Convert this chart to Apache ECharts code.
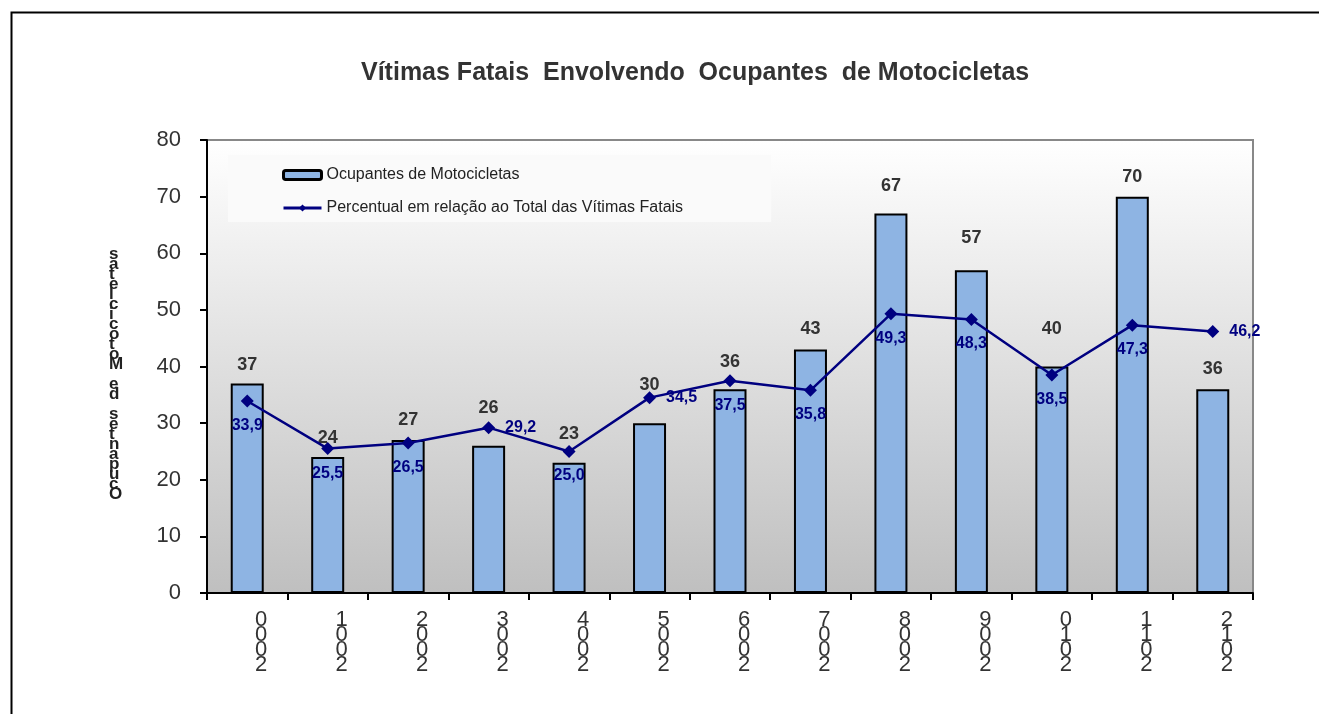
<!DOCTYPE html>
<html>
<head>
<meta charset="utf-8">
<script src="https://cdn.jsdelivr.net/npm/echarts@6/dist/echarts.min.js"></script>
<style>
  html, body { margin: 0; padding: 0; background: #fff; }
  #chart { width: 1319px; height: 714px; }
</style>
</head>
<body>
<div id="chart"></div>
<script>
const years = ['2000', '2001', '2002', '2003', '2004', '2005', '2006', '2007', '2008', '2009', '2010', '2011', '2012']
const ocupantes = [37, 24, 27, 26, 23, 30, 36, 43, 67, 57, 40, 70, 36]
const percentual = [33.9, 25.5, 26.5, 29.2, 25.0, 34.5, 37.5, 35.8, 49.3, 48.3, 38.5, 47.3, 46.2]

// label placement, as in the source picture
const pctLabelPos = ['bottom', 'bottom', 'bottom', 'right', 'bottom', 'right', 'bottom', 'bottom', 'bottom', 'bottom', 'bottom', 'bottom', 'right']
const barLabelGap = [9, 10, 11, 29, 20, 29, 18, 11, 19, 23, 28, 11, 11]

const FONT = '"Liberation Sans", Arial, sans-serif'
const NAVY = '#000080'

// the source file stacks reversed text vertically
const stackReversed = s => s.split('').reverse().join('\n')

const chart = echarts.init(document.getElementById('chart'))

chart.setOption({
  backgroundColor: '#fff',
  animation: false,
  textStyle: { fontFamily: FONT },
  title: {
    text: 'Vítimas Fatais  Envolvendo  Ocupantes  de Motocicletas',
    left: 356,
    top: 56,
    textStyle: { fontFamily: FONT, fontSize: 25, fontWeight: 'bold', color: '#333' }
  },
  legend: {
    orient: 'vertical',
    left: 228,
    top: 155,
    padding: [12, 88, 6, 54],
    itemGap: 17,
    itemWidth: 38,
    itemHeight: 9,
    backgroundColor: '#fafafa',
    textStyle: { fontFamily: FONT, fontSize: 16, color: '#222' },
    data: [
      { name: 'Ocupantes de Motocicletas', itemStyle: { borderWidth: 3 } },
      { name: 'Percentual em relação ao Total das Vítimas Fatais', lineStyle: { width: 3 } }
    ]
  },
  graphic: [
    {
      type: 'rect',
      left: 9, top: 10,
      shape: { width: 1400, height: 800 },
      style: { fill: 'none', stroke: '#000', lineWidth: 2 },
      silent: true
    },
    {
      type: 'text',
      left: 109, top: 246,
      style: {
        text: stackReversed('Ocupantes de Motocicletas'),
        font: 'bold 17px ' + FONT,
        lineHeight: 10,
        fill: '#222',
        align: 'center'
      }
    }
  ],
  grid: {
    left: 207, top: 140, right: 66, bottom: 121,
    show: true,
    borderColor: '#888',
    borderWidth: 2,
    backgroundColor: new echarts.graphic.LinearGradient(0, 0, 0, 1, [
      { offset: 0, color: '#ffffff' },
      { offset: 1, color: '#bfbfbf' }
    ])
  },
  xAxis: {
    type: 'category',
    data: years,
    axisLine: { lineStyle: { color: '#000', width: 2 } },
    axisTick: { show: true, length: 7, lineStyle: { color: '#000', width: 2 } },
    axisLabel: {
      formatter: stackReversed,
      fontFamily: FONT,
      fontSize: 22,
      lineHeight: 15,
      color: '#333',
      margin: 19,
      padding: [0, 0, 0, 28]
    },
    splitLine: { show: false }
  },
  yAxis: {
    type: 'value',
    min: 0, max: 80, interval: 10,
    axisLine: { show: true, lineStyle: { color: '#000', width: 2 } },
    axisTick: { show: true, length: 7, lineStyle: { color: '#000', width: 2 } },
    axisLabel: { fontFamily: FONT, fontSize: 22, color: '#333', margin: 26 },
    splitLine: { show: false }
  },
  series: [
    {
      name: 'Ocupantes de Motocicletas',
      type: 'bar',
      data: ocupantes.map((v, i) => ({
        value: v,
        label: { distance: barLabelGap[i] }
      })),
      barWidth: 33,
      itemStyle: { color: '#8eb4e3', borderColor: '#000', borderWidth: 2 },
      label: {
        show: true,
        position: 'top',
        fontFamily: FONT,
        fontSize: 18,
        fontWeight: 'bold',
        color: '#333'
      },
      z: 2
    },
    {
      name: 'Percentual em relação ao Total das Vítimas Fatais',
      type: 'line',
      data: percentual.map((v, i) => ({
        value: v,
        label: { position: pctLabelPos[i] }
      })),
      symbol: 'diamond',
      symbolSize: 13,
      lineStyle: { color: NAVY, width: 2.5 },
      itemStyle: { color: NAVY },
      label: {
        show: true,
        distance: 10,
        formatter: p => p.value.toFixed(1).replace('.', ','),
        fontFamily: FONT,
        fontSize: 16,
        fontWeight: 'bold',
        color: NAVY
      },
      z: 3
    }
  ]
})
</script>
</body>
</html>
